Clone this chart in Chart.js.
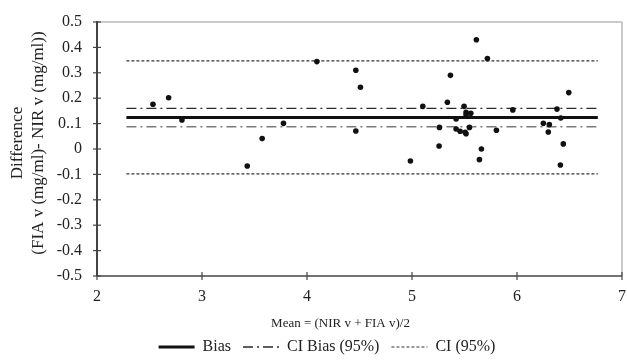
<!DOCTYPE html>
<html><head><meta charset="utf-8">
<script src="https://cdn.jsdelivr.net/npm/chart.js@4.4.1/dist/chart.umd.min.js"></script>
<style>html,body{margin:0;padding:0;background:#fff;overflow:hidden}canvas{display:block}</style>
</head><body>
<canvas id="c" width="627" height="360"></canvas>
<script>
// ---- data ----
const meanValues = [2.533, 2.682, 2.809, 3.431, 3.573, 3.776, 4.094, 4.465, 4.509, 4.465,
  4.985, 5.103, 5.261, 5.258, 5.337, 5.366, 5.420, 5.420, 5.458, 5.496,
  5.515, 5.515, 5.560, 5.506, 5.515, 5.547, 5.613, 5.661, 5.642, 5.718,
  5.804, 5.960, 6.251, 6.308, 6.298, 6.381, 6.417, 6.493, 6.441, 6.413];
const diffValues = [0.176, 0.202, 0.114, -0.067, 0.041, 0.101, 0.344, 0.310, 0.243, 0.071,
  -0.047, 0.168, 0.085, 0.012, 0.184, 0.290, 0.118, 0.079, 0.070, 0.168,
  0.144, 0.134, 0.141, 0.066, 0.060, 0.085, 0.430, 0.000, -0.042, 0.356,
  0.074, 0.154, 0.101, 0.096, 0.067, 0.157, 0.122, 0.222, 0.020, -0.063];
const biasValue = 0.124;
const ciBiasValues = [0.160, 0.088];
const ciValues = [0.347, -0.098];
const lineXRange = [2.28, 6.77];
const yTickLabels = ['-0.5', '-0.4', '-0.3', '-0.2', '-0.1', '0', '0..1', '0.2', '0.3', '0.4', '0.5'];
const xTickLabels = ['2', '3', '4', '5', '6', '7'];
const legendLabels = ['Bias', 'CI Bias (95%)', 'CI (95%)'];
const xTitle = 'Mean = (NIR v + FIA v)/2';
const yTitle = ['Difference', '(FIA v (mg/ml)- NIR v (mg/ml))'];

// ---- build ----
const FONT = 'Liberation Serif';
const TXT = '#222';
const hline = v => lineXRange.map(x => ({x, y: v}));
const points = meanValues.map((m, i) => ({x: m, y: diffValues[i]}));

const lineBase = {type: 'line', showLine: true, pointRadius: 0, pointHoverRadius: 0, fill: false, tension: 0};
const datasets = [
  {type: 'scatter', label: 'Data', data: points, pointRadius: 2.8, pointBackgroundColor: '#111', pointBorderWidth: 0, showLine: false},
  {...lineBase, label: legendLabels[0], data: hline(biasValue), borderColor: '#111', borderWidth: 3, inLegend: true},
  {...lineBase, label: legendLabels[1], data: hline(ciBiasValues[0]), borderColor: '#2a2a2a', borderWidth: 1.3, borderDash: [10, 4, 2, 4], inLegend: true},
  {...lineBase, label: legendLabels[1] + ' lower', data: hline(ciBiasValues[1]), borderColor: '#7a7a7a', borderWidth: 1.5, borderDash: [10, 4, 2, 4]},
  {...lineBase, label: legendLabels[2], data: hline(ciValues[0]), borderColor: '#333', borderWidth: 1.2, borderDash: [3, 2], inLegend: true},
  {...lineBase, label: legendLabels[2] + ' lower', data: hline(ciValues[1]), borderColor: '#333', borderWidth: 1.2, borderDash: [3, 2]}
];

const framePlugin = {
  id: 'frame',
  beforeDatasetsDraw(chart) {
    const {ctx, chartArea: a, scales: {x, y}} = chart;
    const seg = (x1, y1, x2, y2) => { ctx.beginPath(); ctx.moveTo(x1, y1); ctx.lineTo(x2, y2); ctx.stroke(); };
    ctx.save();
    ctx.strokeStyle = '#b8b8b8'; ctx.lineWidth = 1.5;
    seg(a.left, a.top, a.right, a.top);
    seg(a.right, a.top, a.right, a.bottom);
    ctx.strokeStyle = '#444'; ctx.lineWidth = 2;
    seg(a.left, a.top - 1, a.left, a.bottom);
    ctx.lineWidth = 1.5;
    seg(a.left, a.bottom, a.right, a.bottom);
    ctx.lineWidth = 1.2;
    y.ticks.forEach(t => { const py = y.getPixelForValue(t.value); seg(a.left - 4, py, a.left + 4, py); });
    x.ticks.forEach(t => { const px = x.getPixelForValue(t.value); seg(px, a.bottom - 4, px, a.bottom + 4); });
    ctx.restore();
  }
};

const placePlugin = {
  id: 'place',
  afterLayout(chart) {
    const lg = chart.legend;
    if (lg) {
      lg.top = 327; lg.bottom = 360; lg.height = 33;
      const dx = 327 - (lg.left + lg.right) / 2;
      lg.left += dx; lg.right += dx;
    }
    const ys = chart.scales.y;
    ys.top -= 6; ys.bottom -= 6;
    const xs = chart.scales.x;
    xs.left -= 19; xs.right -= 19;
  }
};

const noPad = s => { s.paddingTop = 0; s.paddingBottom = 0; s.paddingLeft = 0; s.paddingRight = 0; };

new Chart(document.getElementById('c'), {
  type: 'scatter',
  data: {datasets},
  plugins: [framePlugin, placePlugin],
  options: {
    responsive: false,
    animation: false,
    devicePixelRatio: 1,
    layout: {padding: {top: 22, right: 5, left: 0, bottom: 0}},
    plugins: {
      tooltip: {enabled: false},
      legend: {
        position: 'bottom',
        maxHeight: 16,
        labels: {
          usePointStyle: true,
          pointStyleWidth: 36,
          padding: 12,
          color: TXT,
          font: {family: FONT, size: 16},
          generateLabels(chart) {
            return chart.data.datasets.map((ds, i) => ({ds, i})).filter(o => o.ds.inLegend).map(({ds, i}) => ({
              text: ds.label,
              fillStyle: ds.borderColor,
              strokeStyle: ds.borderColor,
              lineWidth: ds.borderWidth,
              lineDash: ds.borderDash || [],
              pointStyle: 'line',
              fontColor: TXT,
              hidden: false,
              datasetIndex: i
            }));
          }
        }
      }
    },
    scales: {
      x: {
        type: 'linear', min: 2, max: 7,
        grid: {display: false, drawTicks: false},
        border: {display: false},
        ticks: {stepSize: 1, padding: 11, color: TXT, font: {family: FONT, size: 16},
          callback: v => xTickLabels[Math.round(v - 2)]},
        title: {display: true, text: xTitle, color: TXT, font: {family: FONT, size: 13}, padding: {top: 0, bottom: 13}},
        afterFit(s) { s.height = 68; noPad(s); }
      },
      y: {
        type: 'linear', min: -0.5, max: 0.5,
        grid: {display: false, drawTicks: false},
        border: {display: false},
        ticks: {stepSize: 0.1, padding: 15, color: TXT, font: {family: FONT, size: 16},
          callback: v => yTickLabels[Math.round((v + 0.5) * 10)]},
        title: {display: true, text: yTitle, color: TXT, font: {family: FONT, size: 17, lineHeight: 1.25}, padding: {top: 7, bottom: 0}},
        afterFit(s) { s.width = 97; noPad(s); }
      }
    }
  }
});
</script>
</body></html>
